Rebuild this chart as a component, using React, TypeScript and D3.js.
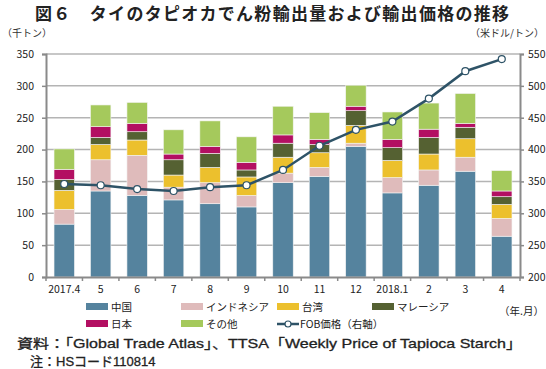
import React, { useEffect, useRef } from "react";
import * as d3 from "d3";

const months = ["2017.4", "5", "6", "7", "8", "9", "10", "11", "12", "2018.1", "2", "3", "4"];
const seriesNames = ["中国", "インドネシア", "台湾", "マレーシア", "日本", "その他"];
const china = [83, 135, 128, 121, 115, 110, 148, 158, 205, 132, 144, 166, 64];
const indonesia = [23, 49, 63, 20, 33, 18, 15, 14, 5, 24, 24, 22, 28];
const taiwan = [30, 24, 24, 19, 24, 29, 25, 23, 28, 27, 25, 29, 22];
const malaysia = [17, 11, 13, 24, 22, 11, 22, 13, 23, 20, 26, 18, 12];
const japan = [16, 17, 13, 9, 11, 12, 13, 8, 7, 13, 13, 6, 9];
const other = [32, 34, 33, 38, 40, 40, 45, 42, 33, 43, 41, 47, 32];
const fob = [346, 344, 338, 335, 341, 344, 368, 406, 431, 444, 480, 523, 542];
const leftTicks = [0, 50, 100, 150, 200, 250, 300, 350];
const rightTicks = [200, 250, 300, 350, 400, 450, 500, 550];
const colors = ["#55839e", "#dfbbbb", "#ecc02d", "#556132", "#b30f62", "#a5c95c"];

const FONT = "'Noto Sans CJK JP', 'Noto Sans', sans-serif";
const LATIN = "'Liberation Sans', 'Noto Sans CJK JP', sans-serif";

export default function App() {
  const ref = useRef<SVGSVGElement>(null);

  useEffect(() => {
    const svg = d3.select(ref.current);
    svg.selectAll("*").remove();

    const left = 46, right = 520, top = 54, bottom = 277;
    const values = [china, indonesia, taiwan, malaysia, japan, other];
    const rows = months.map((m, i) => {
      const r: any = { month: m };
      seriesNames.forEach((s, j) => (r[s] = values[j][i]));
      return r;
    });

    const x = d3.scaleBand().domain(months).range([left, right]).paddingInner(0.44).paddingOuter(0.22);
    const y = d3.scaleLinear().domain([0, 350]).range([bottom, top]);
    const y2 = d3.scaleLinear().domain([200, 550]).range([bottom, top]);

    // title
    svg.append("text").attr("x", 35).attr("y", 20)
      .attr("font-size", 17).attr("font-weight", "bold").attr("fill", "#222")
      .attr("textLength", 474).attr("lengthAdjust", "spacing")
      .text("図６　タイのタピオカでん粉輸出量および輸出価格の推移");

    svg.append("text").attr("x", 2).attr("y", 37).attr("font-size", 10).attr("fill", "#333").text("（千トン）");
    svg.append("text").attr("x", 544).attr("y", 37).attr("text-anchor", "end").attr("font-size", 10).attr("fill", "#333").text("（米ドル/トン）");

    // grid
    svg.append("g").selectAll("line").data(leftTicks.slice(1)).join("line")
      .attr("x1", left).attr("x2", right).attr("y1", (d) => y(d)).attr("y2", (d) => y(d))
      .attr("stroke", "#b4b4b4").attr("stroke-width", 1.5);

    // bars
    const stack = d3.stack<any>().keys(seriesNames)(rows);
    svg.append("g").selectAll("g").data(stack).join("g")
      .attr("fill", (_, i) => colors[i])
      .selectAll("rect").data((d) => d).join("rect")
      .attr("x", (d) => x(d.data.month)!)
      .attr("width", x.bandwidth())
      .attr("y", (d) => y(d[1]))
      .attr("height", (d) => y(d[0]) - y(d[1]))
      .attr("stroke", "#f4f4f4").attr("stroke-width", 0.6);

    // axes
    const axisColor = "#8a8a8a";
    const yl = svg.append("g").attr("transform", `translate(${left},0)`)
      .call(d3.axisLeft(y).tickValues(leftTicks).tickSize(4).tickPadding(8));
    const yr = svg.append("g").attr("transform", `translate(${right},0)`)
      .call(d3.axisRight(y2).tickValues(rightTicks).tickSize(4).tickPadding(4));
    const xb = svg.append("g").attr("transform", `translate(0,${bottom})`)
      .call(d3.axisBottom(x).tickSize(0).tickPadding(9));
    [yl, yr, xb].forEach((g) => {
      g.select(".domain").attr("stroke", axisColor).attr("stroke-width", 2);
      g.selectAll(".tick line").attr("stroke", axisColor).attr("stroke-width", 1.5);
      g.selectAll("text").attr("font-family", FONT).attr("font-size", 10.5).attr("fill", "#222");
    });
    // category boundary ticks
    const bounds = d3.range(months.length + 1).map((i) => left + i * ((right - left) / months.length));
    svg.append("g").selectAll("line").data(bounds).join("line")
      .attr("x1", (d) => d).attr("x2", (d) => d).attr("y1", bottom).attr("y2", bottom + 4)
      .attr("stroke", axisColor).attr("stroke-width", 1.5);

    // FOB line
    const cx = (i: number) => x(months[i])! + x.bandwidth() / 2;
    const line = d3.line<number>().x((_, i) => cx(i)).y((d) => y2(d));
    svg.append("path").datum(fob).attr("d", line).attr("fill", "none")
      .attr("stroke", "#2e5367").attr("stroke-width", 2.5);
    svg.append("g").selectAll("circle").data(fob).join("circle")
      .attr("cx", (_, i) => cx(i)).attr("cy", (d) => y2(d)).attr("r", 3.5)
      .attr("fill", "#fff").attr("stroke", "#2e5367").attr("stroke-width", 1.2);

    svg.append("text").attr("x", 544).attr("y", 315).attr("text-anchor", "end").attr("font-size", 10.5).attr("fill", "#222").text("（年.月）");

    // legend
    const legX = [86, 181, 277, 372];
    const legend = svg.append("g");
    seriesNames.forEach((s, i) => {
      const lx = legX[i % 4];
      const ly = i < 4 ? 307 : 324;
      legend.append("rect").attr("x", lx).attr("y", ly - 4).attr("width", 22).attr("height", 7).attr("fill", colors[i]);
      legend.append("text").attr("x", lx + 25).attr("y", ly + 4).attr("font-size", 10.5).attr("fill", "#222").text(s);
    });
    legend.append("line").attr("x1", 277).attr("x2", 299).attr("y1", 324).attr("y2", 324).attr("stroke", "#2e5367").attr("stroke-width", 2.5);
    legend.append("circle").attr("cx", 288).attr("cy", 324).attr("r", 3).attr("fill", "#fff").attr("stroke", "#2e5367").attr("stroke-width", 1.2);
    legend.append("text").attr("x", 300).attr("y", 328).attr("font-size", 10.5).attr("fill", "#222").text("FOB価格（右軸）");

    svg.append("text").attr("x", 17).attr("y", 348).attr("font-size", 13).attr("font-family", LATIN).attr("fill", "#222")
      .attr("stroke", "#222").attr("stroke-width", 0.3)
      .attr("textLength", 505).attr("lengthAdjust", "spacingAndGlyphs")
      .text("資料：「Global Trade Atlas」、TTSA「Weekly Price of Tapioca Starch」");
    svg.append("text").attr("x", 30).attr("y", 366).attr("font-size", 13).attr("font-family", LATIN).attr("fill", "#222")
      .attr("stroke", "#222").attr("stroke-width", 0.3)
      .text("注：HSコード110814");
  }, []);

  return (
    <svg ref={ref} width={546} height={369} style={{ position: "absolute", left: 0, top: 0, fontFamily: FONT, background: "#fff" }} />
  );
}
